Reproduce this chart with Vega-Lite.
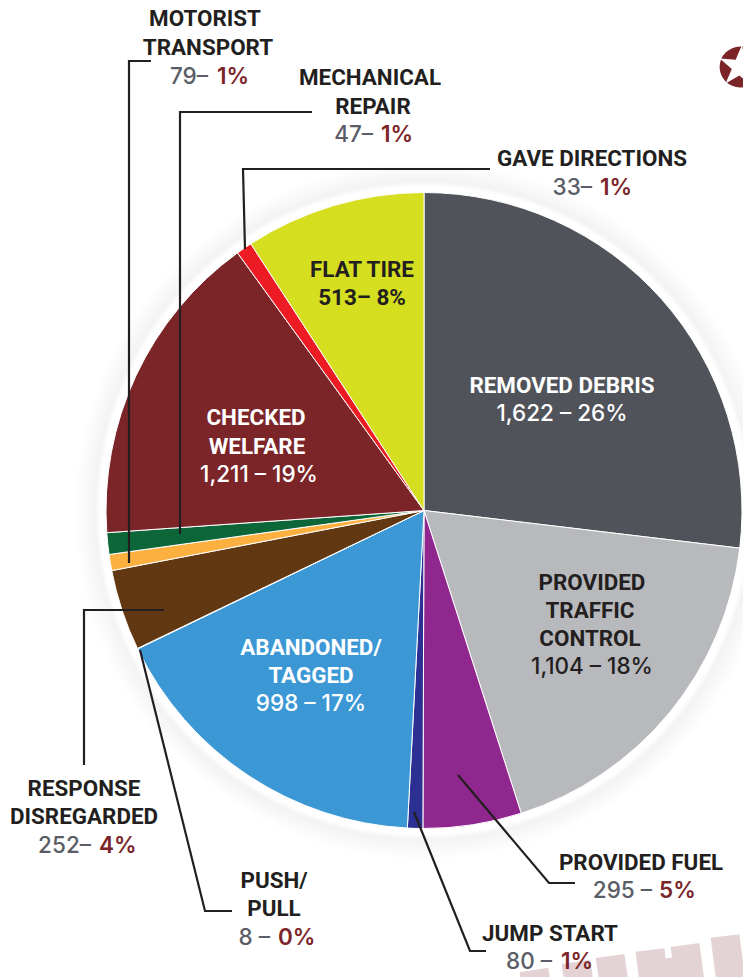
{
"$schema":"https://vega.github.io/schema/vega-lite/v6.json",
"width":743,"height":977,"padding":0,"autosize":"none",
"background":"white",
"config":{"view":{"stroke":null},"text":{"font":"Roboto"}},
"resolve":{"scale":{"color":"independent"}},
"encoding":{},
"layer":[
{"data":{"values":[{"x":534,"y":970,"x2":537,"y2":990},{"x":576,"y":962,"x2":580,"y2":990},{"x":610,"y":956,"x2":615,"y2":990},{"x":650,"y":950,"x2":655,"y2":990},{"x":668,"y":958,"x2":672,"y2":990},{"x":685,"y":945,"x2":691,"y2":990},{"x":725,"y":936,"x2":732,"y2":990}]},
"mark":{"type":"rule","stroke":"#e3d3d5","strokeWidth":29,"strokeCap":"butt","opacity":1},
"encoding":{"x":{"field":"x","type":"quantitative","scale":{"domain":[0,743],"range":[0,743]},"axis":null},"y":{"field":"y","type":"quantitative","scale":{"domain":[0,977],"range":[0,977]},"axis":null},"x2":{"field":"x2"},"y2":{"field":"y2"}}},
{"data":{"values":[{"name":"glow"}]},
"mark":{"type":"arc","x":424,"y":510.5,"outerRadius":350,"theta":0,"theta2":6.2832,"fill":{"gradient":"radial","x1":0.5,"y1":0.5,"x2":0.5,"y2":0.5,"r1":0,"r2":0.5,"stops":[{"offset":0,"color":"#ffffff"},{"offset":0.925,"color":"#ffffff"},{"offset":0.94,"color":"#f3f3f3"},{"offset":1,"color":"#ffffff"}]}},
"encoding":{}},
{"data":{"values":[
{"name":"Removed Debris","idx":1,"sweep":96.8},
{"name":"Provided Traffic Control","idx":2,"sweep":65.4},
{"name":"Provided Fuel","idx":3,"sweep":18},
{"name":"Jump Start","idx":4,"sweep":2.8},
{"name":"Abandoned/Tagged","idx":5,"sweep":61.2},
{"name":"Push/Pull","idx":6,"sweep":0.1},
{"name":"Response Disregarded","idx":7,"sweep":14.8},
{"name":"Motorist Transport","idx":8,"sweep":2.95},
{"name":"Mechanical Repair","idx":9,"sweep":3.95},
{"name":"Checked Welfare","idx":10,"sweep":58.1},
{"name":"Gave Directions","idx":11,"sweep":2.9},
{"name":"Flat Tire","idx":12,"sweep":33}
]},
"mark":{"type":"arc","x":424,"y":510.5,"outerRadius":318,"stroke":"#ffffff","strokeWidth":1},
"encoding":{
"theta":{"field":"sweep","type":"quantitative","stack":true,"scale":{"domain":[0,360]}},
"order":{"field":"idx","type":"quantitative"},
"color":{"field":"name","type":"nominal","legend":null,"scale":{"domain":["Removed Debris","Provided Traffic Control","Provided Fuel","Jump Start","Abandoned/Tagged","Push/Pull","Response Disregarded","Motorist Transport","Mechanical Repair","Checked Welfare","Gave Directions","Flat Tire"],"range":["#50535a","#b8b9bc","#90278e","#2b3092","#3b98d5","#3b98d5","#623812","#fbb040","#0d6638","#7b2529","#ed1c24","#d5de1f"]}}
}},
{"data":{"values":[
{"id":"motorist","o":1,"x":151,"y":61},{"id":"motorist","o":2,"x":129,"y":61},{"id":"motorist","o":3,"x":129,"y":563},
{"id":"mechanical","o":1,"x":312,"y":112},{"id":"mechanical","o":2,"x":180,"y":112},{"id":"mechanical","o":3,"x":180,"y":534},
{"id":"directions","o":1,"x":490,"y":169},{"id":"directions","o":2,"x":243,"y":169},{"id":"directions","o":3,"x":245,"y":249},
{"id":"response","o":1,"x":164,"y":610},{"id":"response","o":2,"x":84,"y":610},{"id":"response","o":3,"x":84,"y":765},
{"id":"push","o":1,"x":140,"y":650},{"id":"push","o":2,"x":205,"y":911},{"id":"push","o":3,"x":232,"y":911},
{"id":"fuel","o":1,"x":458,"y":775},{"id":"fuel","o":2,"x":549,"y":883},{"id":"fuel","o":3,"x":575,"y":883},
{"id":"jump","o":1,"x":414,"y":812},{"id":"jump","o":2,"x":470,"y":951},{"id":"jump","o":3,"x":486,"y":951}
]},
"mark":{"type":"line","stroke":"#231f20","strokeWidth":2.2,"strokeJoin":"miter"},
"encoding":{"x":{"field":"x","type":"quantitative","scale":{"domain":[0,743],"range":[0,743]},"axis":null},"y":{"field":"y","type":"quantitative","scale":{"domain":[0,977],"range":[0,977]},"axis":null},"detail":{"field":"id"},"order":{"field":"o","type":"quantitative"}}},
{"data":{"values":[{"x":740,"y":67}]},
"mark":{"type":"point","filled":true,"shape":"circle","size":1662,"color":"#7b2529","opacity":1},
"encoding":{"x":{"field":"x","type":"quantitative","scale":{"domain":[0,743],"range":[0,743]},"axis":null},"y":{"field":"y","type":"quantitative","scale":{"domain":[0,977],"range":[0,977]},"axis":null}}},
{"data":{"values":[{"x":740,"y":67}]},
"mark":{"type":"point","filled":true,"size":1936,"color":"#ffffff","opacity":1,"shape":"M0.087,-0.996L0.251,-0.288L0.974,-0.225L0.352,0.149L0.515,0.857L-0.033,0.381L-0.656,0.755L-0.372,0.086L-0.921,-0.391L-0.197,-0.327Z"},
"encoding":{"x":{"field":"x","type":"quantitative","scale":{"domain":[0,743],"range":[0,743]},"axis":null},"y":{"field":"y","type":"quantitative","scale":{"domain":[0,977],"range":[0,977]},"axis":null}}},
{"data":{"values":[
{"t":"MOTORIST","x":205,"y":18,"tone":"dark"},{"t":"TRANSPORT","x":208,"y":47,"tone":"dark"},
{"t":"MECHANICAL","x":370,"y":77,"tone":"dark"},{"t":"REPAIR","x":373,"y":106,"tone":"dark"},
{"t":"GAVE DIRECTIONS","x":592,"y":158,"tone":"dark"},
{"t":"FLAT TIRE","x":362,"y":269,"tone":"dark"},{"t":"513– 8%","x":362,"y":297,"tone":"dark"},
{"t":"REMOVED DEBRIS","x":562,"y":385,"tone":"light"},
{"t":"CHECKED","x":256,"y":417,"tone":"light"},{"t":"WELFARE","x":257,"y":446,"tone":"light"},
{"t":"PROVIDED","x":592,"y":582,"tone":"dark"},{"t":"TRAFFIC","x":590,"y":610,"tone":"dark"},{"t":"CONTROL","x":590,"y":638,"tone":"dark"},
{"t":"ABANDONED/","x":311,"y":647,"tone":"light"},{"t":"TAGGED","x":311,"y":675,"tone":"light"},
{"t":"RESPONSE","x":84,"y":788,"tone":"dark"},{"t":"DISREGARDED","x":84,"y":816,"tone":"dark"},
{"t":"PUSH/","x":274,"y":880,"tone":"dark"},{"t":"PULL","x":274,"y":908,"tone":"dark"},
{"t":"PROVIDED FUEL","x":641,"y":862,"tone":"dark"},
{"t":"JUMP START","x":550,"y":933,"tone":"dark"}
]},
"mark":{"type":"text","font":"Roboto","fontWeight":700,"fontSize":22.4,"align":"center","baseline":"middle","dy":1,"opacity":1},
"encoding":{"x":{"field":"x","type":"quantitative","scale":{"domain":[0,743],"range":[0,743]},"axis":null},"y":{"field":"y","type":"quantitative","scale":{"domain":[0,977],"range":[0,977]},"axis":null},"text":{"field":"t"},"color":{"field":"tone","type":"nominal","legend":null,"scale":{"domain":["dark","light"],"range":["#231f20","#ffffff"]}}}},
{"data":{"values":[
{"t":"1,622 – 26%","x":562,"y":413,"tone":"light"},
{"t":"1,211 – 19%","x":259,"y":474,"tone":"light"},
{"t":"1,104 – 18%","x":592,"y":666,"tone":"dark"},
{"t":"998 – 17%","x":311,"y":703,"tone":"light"}
]},
"mark":{"type":"text","font":"Inter","fontWeight":500,"fontSize":22.5,"align":"center","baseline":"middle","dy":1,"opacity":1},
"encoding":{"x":{"field":"x","type":"quantitative","scale":{"domain":[0,743],"range":[0,743]},"axis":null},"y":{"field":"y","type":"quantitative","scale":{"domain":[0,977],"range":[0,977]},"axis":null},"text":{"field":"t"},"color":{"field":"tone","type":"nominal","legend":null,"scale":{"domain":["dark","light"],"range":["#231f20","#ffffff"]}}}},
{"data":{"values":[
{"t":"79–","x":208,"y":76},{"t":"47–","x":373,"y":134},{"t":"33–","x":592,"y":187},{"t":"252–","x":91,"y":845},{"t":"8 –","x":270,"y":937},{"t":"295 –","x":652,"y":890},{"t":"80 –","x":552,"y":961}
]},
"mark":{"type":"text","font":"Inter","fontWeight":500,"fontSize":22.5,"align":"right","baseline":"middle","color":"#5a5d66","dy":1,"opacity":1},
"encoding":{"x":{"field":"x","type":"quantitative","scale":{"domain":[0,743],"range":[0,743]},"axis":null},"y":{"field":"y","type":"quantitative","scale":{"domain":[0,977],"range":[0,977]},"axis":null},"text":{"field":"t"}}},
{"data":{"values":[
{"t":"1%","x":217,"y":76},{"t":"1%","x":381,"y":134},{"t":"1%","x":600,"y":187},{"t":"4%","x":99,"y":845},{"t":"0%","x":278,"y":937},{"t":"5%","x":659,"y":890},{"t":"1%","x":561,"y":961}
]},
"mark":{"type":"text","font":"Inter","fontWeight":600,"fontSize":22.5,"align":"left","baseline":"middle","color":"#7b2529","dy":1,"opacity":1},
"encoding":{"x":{"field":"x","type":"quantitative","scale":{"domain":[0,743],"range":[0,743]},"axis":null},"y":{"field":"y","type":"quantitative","scale":{"domain":[0,977],"range":[0,977]},"axis":null},"text":{"field":"t"}}}
]
}
